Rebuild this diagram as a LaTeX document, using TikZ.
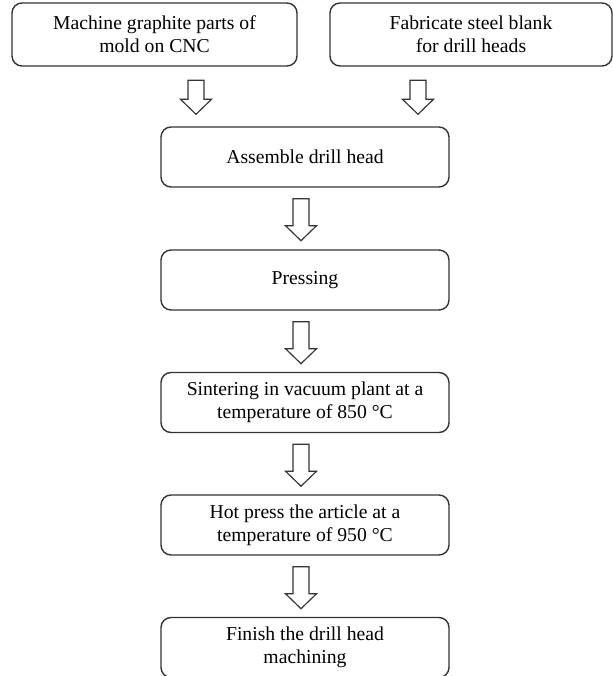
\documentclass[tikz,border=0pt]{standalone}
\usepackage{fontspec}
\setmainfont{Liberation Serif}
\usetikzlibrary{calc}
\tikzset{pics/downarrow/.style={code={\draw[line width=0.7pt,line join=miter,draw=black!80,fill=white] (-8,0)--(8,0)--(8,{#1-15})--(15.5,{#1-15})--(0,{#1})--(-15.5,{#1-15})--(-8,{#1-15})--cycle;}}}

\begin{document}
\begin{tikzpicture}[x=0.6pt,y=-0.6pt,font=\fontsize{11.8}{13.8}\selectfont,stepbox/.style={draw=black!80,rounded corners=6pt,line width=0.85pt,align=center,minimum width=172.8pt,minimum height=36pt,inner sep=2pt}]
\useasboundingbox (0,0) rectangle (613,676);
\node[stepbox,minimum width=171pt,minimum height=37.8pt] (mold) at (154.5,34.5) {Machine graphite parts of\\mold on CNC};
\node[stepbox,minimum width=169.2pt,minimum height=37.8pt] (blank) at (471,34.5) {Fabricate steel blank\\for drill heads};
\foreach \nm/\y/\txt in {assemble/157/{Assemble drill head},pressing/280/{Pressing},sinter/402.5/{Sintering in vacuum plant at a\\temperature of 850 °C},hotpress/525/{Hot press the article at a\\temperature of 950 °C},finish/647.5/{Finish the drill head\\machining}}{\node[stepbox] (\nm) at (305,\y) {\txt};}
\pic at ($(assemble.north)+(-109,-46)$) {downarrow=34};
\pic at ($(assemble.north)+(113,-46)$) {downarrow=34};
\foreach \a in {assemble,pressing,sinter,hotpress}{\pic at ($(\a.south)+(-4,11)$) {downarrow=42};}
\end{tikzpicture}
\end{document}
